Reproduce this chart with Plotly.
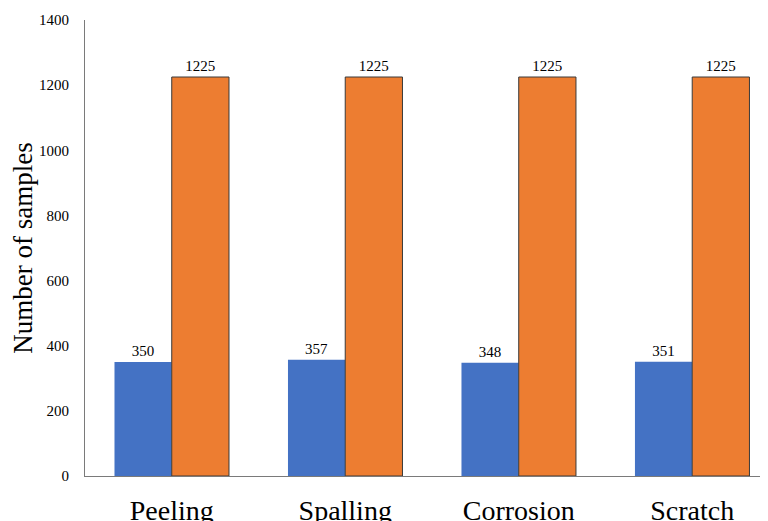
import plotly.graph_objects as go

categories = ["Peeling", "Spalling", "Corrosion", "Scratch"]
series_a = [350, 357, 348, 351]
series_b = [1225, 1225, 1225, 1225]
y_ticks = [0, 200, 400, 600, 800, 1000, 1200, 1400]

FONT = "Liberation Serif"

fig = go.Figure()
fig.add_trace(go.Bar(
    x=categories, y=series_a, name="A",
    marker=dict(color="#4472C4", line=dict(width=0)),
    text=[str(v) for v in series_a], textposition="outside",
    textfont=dict(family=FONT, size=15, color="#000000"),
    cliponaxis=False,
))
fig.add_trace(go.Bar(
    x=categories, y=series_b, name="B",
    marker=dict(color="#ED7D31", line=dict(width=1, color="#3a3a3a")),
    text=[str(v) for v in series_b], textposition="outside",
    textfont=dict(family=FONT, size=15, color="#000000"),
    cliponaxis=False,
))

fig.update_layout(
    width=768, height=521,
    margin=dict(l=77, r=0, t=12, b=53),
    paper_bgcolor="white", plot_bgcolor="white",
    barmode="group", bargap=0.34, bargroupgap=0,
    showlegend=False,
    font=dict(family=FONT, color="#000000"),
    xaxis=dict(
        range=[-0.5, 3.483], showgrid=False, zeroline=False,
        showline=True, linecolor="#7a7a7a", linewidth=1,
        ticks="", tickfont=dict(family=FONT, size=28, color="#000000"),
        ticklabelstandoff=9, automargin=False,
    ),
    yaxis=dict(
        range=[0, 1400], tickvals=y_ticks, showgrid=False, zeroline=False,
        showline=True, linecolor="#7a7a7a", linewidth=1,
        ticks="", tickfont=dict(family=FONT, size=15, color="#000000"),
        ticklabelstandoff=12, automargin=False,
        title=dict(text="Number of samples", font=dict(family=FONT, size=27, color="#000000"), standoff=9),
    ),
)

fig.write_html("out.html")
